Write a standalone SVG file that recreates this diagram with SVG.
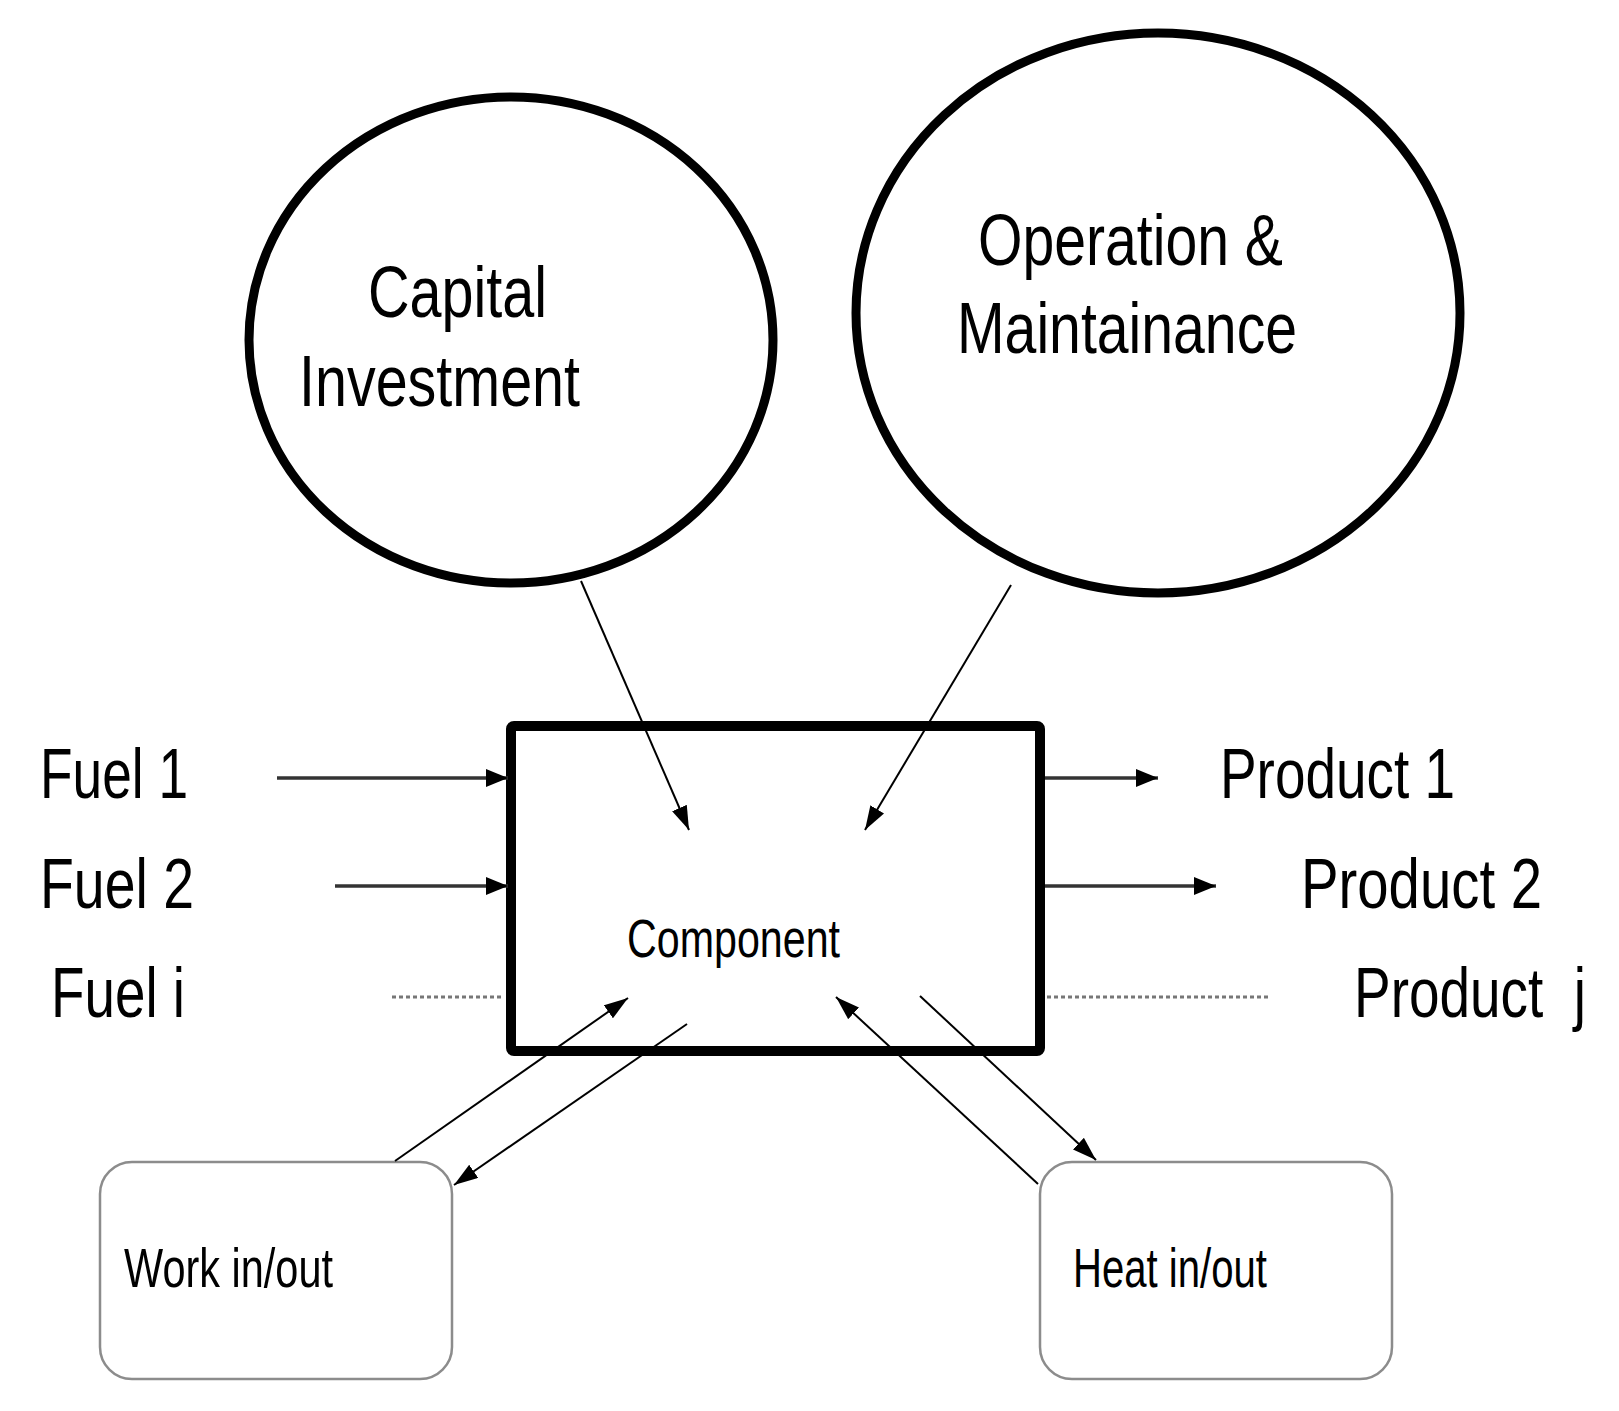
<svg xmlns="http://www.w3.org/2000/svg" width="1619" height="1411" viewBox="0 0 1619 1411">
<style>
  .ell { fill: #fff; stroke: #000; stroke-width: 9; }
  .comp { fill: #fff; stroke: #000; stroke-width: 10; }
  .soft { fill: #fff; stroke: #8c8c8c; stroke-width: 2.5; }
  text { font-family: "Liberation Sans", Arial, sans-serif; fill: #000; }
  .big { font-size: 72px; }
  .lbl { font-size: 71px; }
  .mid { font-size: 54px; }
  .sm { font-size: 56px; }
  .flow { stroke: #333; stroke-width: 3.5; fill: none; }
  .diag { stroke: #000; stroke-width: 2; fill: none; }
  .dot { stroke: #777; stroke-width: 3; stroke-dasharray: 4 3; fill: none; }
</style>
<defs>
  <marker id="ah" viewBox="0 0 22 18" refX="22" refY="9" markerWidth="22" markerHeight="18" markerUnits="userSpaceOnUse" orient="auto">
    <path d="M0,0 L22,9 L0,18 z" fill="#000"/>
  </marker>
  <marker id="ad" viewBox="0 0 24 16" refX="24" refY="8" markerWidth="24" markerHeight="16" markerUnits="userSpaceOnUse" orient="auto">
    <path d="M0,0 L24,8 L0,16 z" fill="#000"/>
  </marker>
</defs>
<rect width="1619" height="1411" fill="#fff"/>

<g id="capital">
  <ellipse class="ell" cx="511" cy="340" rx="262" ry="243"/>
  <text class="big" x="368" y="317" textLength="179" lengthAdjust="spacingAndGlyphs">Capital</text>
  <text class="big" x="299" y="406" textLength="281" lengthAdjust="spacingAndGlyphs">Investment</text>
</g>

<g id="om">
  <ellipse class="ell" cx="1158" cy="313" rx="302" ry="280"/>
  <text class="big" x="978" y="265" textLength="305" lengthAdjust="spacingAndGlyphs">Operation &amp;</text>
  <text class="big" x="957" y="353" textLength="340" lengthAdjust="spacingAndGlyphs">Maintainance</text>
</g>

<g id="component">
  <rect class="comp" x="511" y="726" width="529" height="325" rx="3"/>
  <text class="mid" x="627" y="957" textLength="213" lengthAdjust="spacingAndGlyphs">Component</text>
</g>

<g id="work">
  <rect class="soft" x="100" y="1162" width="352" height="217" rx="32"/>
  <text class="sm" x="124" y="1287" textLength="209" lengthAdjust="spacingAndGlyphs">Work in/out</text>
</g>

<g id="heat">
  <rect class="soft" x="1040" y="1162" width="352" height="217" rx="32"/>
  <text class="sm" x="1073" y="1287" textLength="194" lengthAdjust="spacingAndGlyphs">Heat in/out</text>
</g>

<g id="fuels">
  <text class="lbl" x="40" y="798" textLength="148" lengthAdjust="spacingAndGlyphs">Fuel 1</text>
  <text class="lbl" x="40" y="908" textLength="154" lengthAdjust="spacingAndGlyphs">Fuel 2</text>
  <text class="lbl" x="51" y="1017" textLength="134" lengthAdjust="spacingAndGlyphs">Fuel i</text>
</g>

<g id="products">
  <text class="lbl" x="1220" y="798" textLength="235" lengthAdjust="spacingAndGlyphs">Product 1</text>
  <text class="lbl" x="1301" y="908" textLength="241" lengthAdjust="spacingAndGlyphs">Product 2</text>
  <text class="lbl" x="1354" y="1017" textLength="232" lengthAdjust="spacingAndGlyphs" xml:space="preserve">Product  j</text>
</g>

<g id="connectors">
  <line class="flow" x1="277" y1="778" x2="508" y2="778" marker-end="url(#ah)"/>
  <line class="flow" x1="335" y1="886" x2="508" y2="886" marker-end="url(#ah)"/>
  <line class="dot" x1="392" y1="997" x2="503" y2="997"/>
  <line class="flow" x1="1045" y1="778" x2="1158" y2="778" marker-end="url(#ah)"/>
  <line class="flow" x1="1045" y1="886" x2="1216" y2="886" marker-end="url(#ah)"/>
  <line class="dot" x1="1047" y1="997" x2="1270" y2="997"/>
  <line class="diag" x1="581" y1="581" x2="689" y2="830" marker-end="url(#ad)"/>
  <line class="diag" x1="1011" y1="585" x2="865" y2="830" marker-end="url(#ad)"/>
  <line class="diag" x1="395" y1="1161" x2="628" y2="998" marker-end="url(#ad)"/>
  <line class="diag" x1="687" y1="1024" x2="454" y2="1185" marker-end="url(#ad)"/>
  <line class="diag" x1="1038" y1="1184" x2="836" y2="997" marker-end="url(#ad)"/>
  <line class="diag" x1="920" y1="996" x2="1096" y2="1160" marker-end="url(#ad)"/>
</g>
</svg>
